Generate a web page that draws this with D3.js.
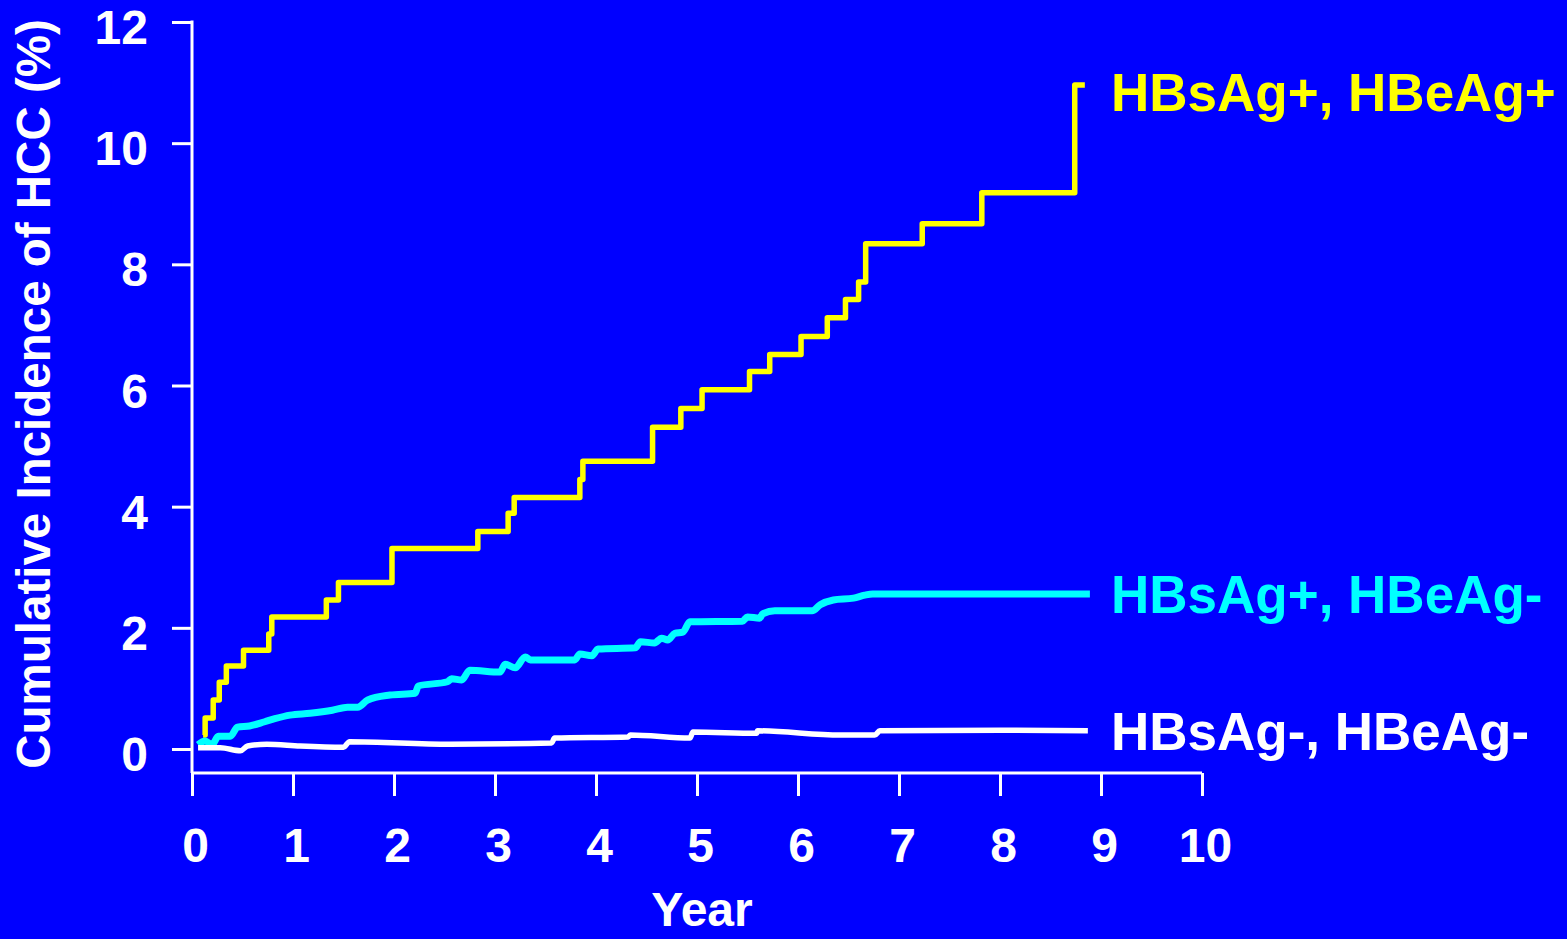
<!DOCTYPE html>
<html>
<head>
<meta charset="utf-8">
<script src="https://cdn.jsdelivr.net/npm/d3@7"></script>
<style>
  html, body { margin: 0; padding: 0; background: #0000ff; overflow: hidden; }
</style>
</head>
<body>
<div id="chart"></div>
<script>
// HBsAg+, HBeAg+ : cumulative incidence (step curve)
var yellowYears  = [0.11, 0.13, 0.21, 0.27, 0.34, 0.51, 0.76, 0.79, 1.33, 1.45, 1.98, 2.83, 3.13, 3.19, 3.84, 3.87, 4.56, 4.84, 5.05, 5.52, 5.72, 6.03, 6.29, 6.47, 6.60, 6.67, 7.23, 7.82, 8.74, 8.84];
var yellowValues = [0.23, 0.51, 0.81, 1.10, 1.37, 1.63, 1.90, 2.18, 2.46, 2.75, 3.31, 3.59, 3.89, 4.15, 4.45, 4.75, 5.31, 5.62, 5.93, 6.23, 6.51, 6.81, 7.12, 7.42, 7.71, 8.34, 8.67, 9.18, 10.96, 10.96];

// HBsAg+, HBeAg-
var cyanYears  = [0.06, 0.13, 0.20, 0.26, 0.38, 0.45, 0.57, 0.72, 0.82, 0.97, 1.17, 1.39, 1.54, 1.64, 1.74, 1.96, 2.21, 2.24, 2.53, 2.57, 2.67, 2.75, 3.05, 3.10, 3.20, 3.30, 3.35, 3.79, 3.84, 3.96, 4.02, 4.39, 4.44, 4.58, 4.65, 4.71, 4.78, 4.86, 4.93, 5.45, 5.50, 5.62, 5.65, 5.77, 6.14, 6.22, 6.35, 6.55, 6.66, 6.74, 8.89];
var cyanValues = [0.07, 0.13, 0.07, 0.21, 0.21, 0.36, 0.38, 0.45, 0.50, 0.56, 0.59, 0.64, 0.69, 0.69, 0.81, 0.89, 0.92, 1.04, 1.11, 1.16, 1.14, 1.30, 1.27, 1.40, 1.34, 1.52, 1.47, 1.47, 1.57, 1.54, 1.65, 1.67, 1.77, 1.75, 1.83, 1.80, 1.91, 1.93, 2.10, 2.11, 2.18, 2.16, 2.23, 2.28, 2.28, 2.38, 2.46, 2.49, 2.54, 2.56, 2.56];

// HBsAg-, HBeAg-
var whiteYears  = [0.06, 0.28, 0.48, 0.55, 0.74, 1.07, 1.50, 1.56, 2.55, 3.56, 3.59, 4.32, 4.34, 4.93, 4.96, 5.59, 5.60, 6.42, 6.76, 6.81, 8.00, 8.87];
var whiteValues = [0.02, 0.02, -0.03, 0.05, 0.08, 0.05, 0.03, 0.12, 0.08, 0.10, 0.18, 0.20, 0.23, 0.18, 0.28, 0.26, 0.30, 0.23, 0.23, 0.30, 0.31, 0.30];

var xTicks = [0, 1, 2, 3, 4, 5, 6, 7, 8, 9, 10];
var yTicks = [0, 2, 4, 6, 8, 10, 12];
var seriesNames  = ["HBsAg+, HBeAg+", "HBsAg+, HBeAg-", "HBsAg-, HBeAg-"];
var seriesColors = ["#ffff00", "#00ffff", "#ffffff"];

var font = "'Liberation Sans', Arial, Helvetica, sans-serif";

var svg = d3.select('#chart').append('svg')
  .attr('width', 1567)
  .attr('height', 939)
  .style('background-color', '#0000ff')
  .style('display', 'block');

var x = d3.scaleLinear().domain([0, 10]).range([192, 1202]);
var y = d3.scaleLinear().domain([0, 12]).range([749, 22]);
var axisY = 773; // x axis sits a bit below zero

// y axis
var gy = svg.append('g')
  .attr('transform', 'translate(' + x(0) + ',0)')
  .call(d3.axisLeft(y).tickValues(yTicks).tickSize(20).tickPadding(24).tickFormat(d3.format('d')));
gy.select('.domain').remove();
gy.selectAll('line').attr('stroke', '#fff').attr('stroke-width', 3);
gy.selectAll('text')
  .attr('fill', '#fff')
  .attr('font-size', 48)
  .attr('font-weight', 'bold')
  .attr('font-family', font)
  .attr('dy', '0.45em');

// x axis
var gx = svg.append('g')
  .attr('transform', 'translate(0,' + axisY + ')')
  .call(d3.axisBottom(x).tickValues(xTicks).tickSize(23).tickPadding(32).tickFormat(d3.format('d')));
gx.select('.domain').remove();
gx.selectAll('line').attr('stroke', '#fff').attr('stroke-width', 3);
gx.selectAll('text')
  .attr('fill', '#fff')
  .attr('font-size', 48)
  .attr('font-weight', 'bold')
  .attr('font-family', font)
  .attr('dx', 3);

// axis lines
svg.append('line')
  .attr('x1', x(0)).attr('x2', x(0))
  .attr('y1', y(12) - 1.5).attr('y2', axisY)
  .attr('stroke', '#fff').attr('stroke-width', 3);
svg.append('line')
  .attr('x1', x(0)).attr('x2', x(10))
  .attr('y1', axisY).attr('y2', axisY)
  .attr('stroke', '#fff').attr('stroke-width', 3);

// axis titles
svg.append('text')
  .attr('transform', 'translate(50,394) rotate(-90)')
  .attr('text-anchor', 'middle')
  .attr('fill', '#fff')
  .attr('font-size', 47.5)
  .attr('font-weight', 'bold')
  .attr('font-family', font)
  .text('Cumulative Incidence of HCC (%)');

svg.append('text')
  .attr('x', 702)
  .attr('y', 926)
  .attr('text-anchor', 'middle')
  .attr('fill', '#fff')
  .attr('font-size', 48)
  .attr('font-weight', 'bold')
  .attr('font-family', font)
  .text('Year');

// curves
var series = [
  { pts: d3.zip(yellowYears, yellowValues), curve: d3.curveStepAfter, w: 5.5 },
  { pts: d3.zip(cyanYears, cyanValues), curve: d3.curveMonotoneX, w: 7 },
  { pts: d3.zip(whiteYears, whiteValues), curve: d3.curveMonotoneX, w: 5.5 }
];

series.forEach(function(s, i) {
  var line = d3.line()
    .x(function(d) { return x(d[0]); })
    .y(function(d) { return y(d[1]); })
    .curve(s.curve);
  svg.append('path')
    .attr('d', line(s.pts))
    .attr('fill', 'none')
    .attr('stroke', seriesColors[i])
    .attr('stroke-width', s.w)
    .attr('stroke-linejoin', 'round');
});

// series labels at the right
var labelY = [111, 613, 750];
svg.selectAll('.series-label')
  .data(seriesNames)
  .enter().append('text')
  .attr('class', 'series-label')
  .attr('x', 1111)
  .attr('y', function(d, i) { return labelY[i]; })
  .attr('fill', function(d, i) { return seriesColors[i]; })
  .attr('font-size', 53)
  .attr('font-weight', 'bold')
  .attr('font-family', font)
  .text(function(d) { return d; });
</script>
</body>
</html>
